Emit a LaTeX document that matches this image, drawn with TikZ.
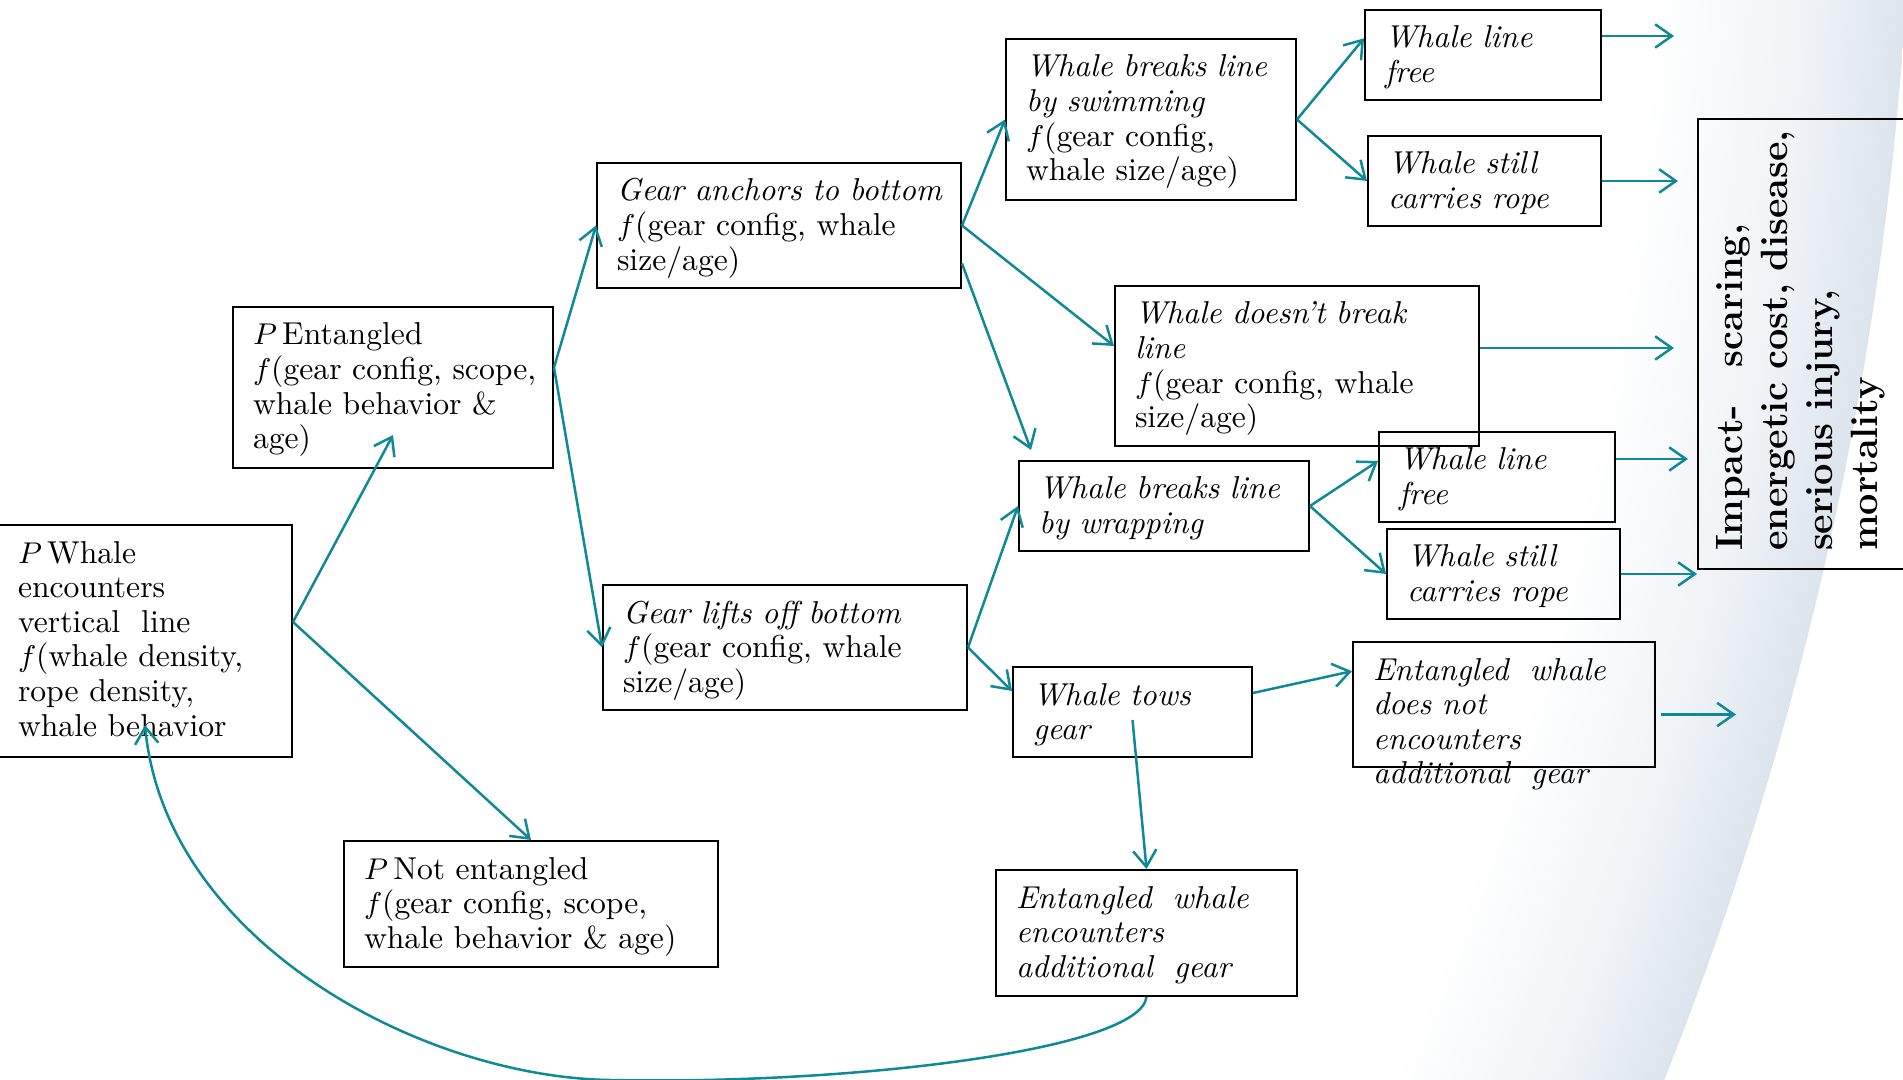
\documentclass[tikz,border=0pt]{standalone}
\usetikzlibrary{arrows.meta}

\definecolor{arrowteal}{RGB}{16,137,150}
\definecolor{fadegrey}{RGB}{220,228,237}
\pgfdeclareradialshading{edgefade}{\pgfpointorigin}{color(0bp)=(white); color(23.2bp)=(white); color(24.3bp)=(fadegrey!45!white); color(25bp)=(fadegrey); color(50bp)=(fadegrey)}

\newcommand{\boxfont}{\fontsize{9.5pt}{10.4pt}\selectfont}
\newcommand{\boxlines}[1]{\begin{tabular}[t]{@{}l@{}}#1\end{tabular}}

\begin{document}
\begin{tikzpicture}[x=0.3pt, y=-0.3pt,
    box/.style={draw, line width=0.6pt, anchor=north west, inner xsep=6pt, inner ysep=0pt, text height=11.4pt, font=\boxfont},
    outcome/.style={box, font=\boxfont\itshape},
    link/.style={draw=arrowteal, line width=0.75pt, -{Straight Barb[length=5pt,width=7pt]}}]
        \useasboundingbox (0,0) rectangle (1903,1080);

        % Background fade
        \shade[shading=edgefade] (-1606,-222) circle [radius=1055.7pt];

        % Boxes
        \node[box, text width=76.2pt, text depth=58.2pt] (root) at (-3,524)
          {\boxlines{$P$\,Whale\\encounters\\vertical\ \ line\\$f$(whale density,\\rope density,\\whale behavior}};
        \node[box, text width=84pt, text depth=36.9pt] (pent) at (232,306)
          {\boxlines{$P$\,Entangled\\$f$(gear config, scope,\\whale behavior \&\\age)}};
        \node[box, text width=100.2pt, text depth=26.4pt] (pnot) at (343,840)
          {\boxlines{$P$\,Not entangled\\$f$(gear config, scope,\\whale behavior \& age)}};
        \node[box, text width=97.2pt, text depth=26.1pt] (ganchor) at (596,162)
          {\boxlines{\textit{Gear anchors to bottom}\\$f$(gear config, whale\\size/age)}};
        \node[box, text width=97.2pt, text depth=26.1pt] (glift) at (602,584)
          {\boxlines{\textit{Gear lifts off bottom}\\$f$(gear config, whale\\size/age)}};
        \node[box, text width=75pt, text depth=36.9pt] (bswim) at (1005,38)
          {\boxlines{\textit{Whale breaks line}\\\textit{by swimming}\\$f$(gear config,\\whale size/age)}};
        \node[outcome, text width=58.8pt, text depth=15.6pt] (free1) at (1364,9)
          {\boxlines{Whale line\\free}};
        \node[outcome, text width=57.9pt, text depth=15.6pt] (rope1) at (1367,135)
          {\boxlines{Whale still\\carries rope}};
        \node[box, text width=97.2pt, text depth=36.6pt] (nobreak) at (1114,285)
          {\boxlines{\textit{Whale doesn't break}\\\textit{line}\\$f$(gear config, whale\\size/age)}};
        \node[outcome, text width=75pt, text depth=15.6pt] (bwrap) at (1018,460)
          {\boxlines{Whale breaks line\\by wrapping}};
        \node[outcome, text width=58.8pt, text depth=15.6pt] (free2) at (1378,431)
          {\boxlines{Whale line\\free}};
        \node[outcome, text width=57.9pt, text depth=15.6pt] (rope2) at (1386,528)
          {\boxlines{Whale still\\carries rope}};
        \node[outcome, text width=59.7pt, text depth=15.6pt] (tows) at (1012,666)
          {\boxlines{Whale tows\\gear}};
        \node[outcome, text width=78.6pt, text depth=26.1pt] (enot) at (1352,641)
          {\boxlines{Entangled\ \ whale\\does not\\encounters\\additional\ \ gear}};
        \node[outcome, text width=78.3pt, text depth=26.4pt] (enc) at (995,869)
          {\boxlines{Entangled\ \ whale\\encounters\\additional\ \ gear}};

        % Impact
        \node[box, rotate=90, inner xsep=5.4pt, text width=124.2pt, text height=13.2pt, text depth=64.8pt,
          font=\fontsize{11.4pt}{13.5pt}\selectfont\bfseries] (impact) at (1697,570)
          {\boxlines{Impact-\quad scaring,\\energetic cost, disease,\\serious injury,\\mortality}};

        % Branches
        \draw[link] ([yshift=5.7pt]root.east) -- ([yshift=10.2pt]pent.south);
        \draw[link] ([yshift=5.7pt]root.east) -- (pnot.north);
        \draw[link] ([yshift=6pt]pent.east) -- (ganchor.west);
        \draw[link] ([yshift=6pt]pent.east) -- (glift.west);
        \draw[link] (ganchor.east) -- (bswim.west);
        \draw[link] (ganchor.east) -- ([yshift=6pt]nobreak.west);
        \draw[link] ([yshift=-11.4pt]ganchor.east) -- ([xshift=3.9pt,yshift=3pt]bwrap.north west);
        \draw[link] (glift.east) -- (bwrap.west);
        \draw[link] (glift.east) -- ([yshift=6.3pt]tows.west);
        \draw[link] (bswim.east) -- ([yshift=5pt]free1.west);
        \draw[link] (bswim.east) -- (rope1.west);
        \draw[link] (bwrap.east) -- ([yshift=4.8pt]free2.west);
        \draw[link] (bwrap.east) -- (rope2.west);
        \draw[link] ([yshift=5.7pt]tows.east) -- ([yshift=10pt]enot.west);
        \draw[link] ([yshift=-2.4pt]tows.center) -- (enc.north);

        % Back to the start
        \draw[link] (enc.south) .. controls (1140,1050) and (850,1085) .. (610,1080)
          .. controls (420,1077) and (165,940) .. ([yshift=9.9pt]root.south);

        % Towards impact
        \draw[link] ([yshift=5.7pt]free1.east) -- ++(72,0);
        \draw[link] (rope1.east) -- ++(76,0);
        \draw[link] ([yshift=5.4pt]nobreak.east) -- ++(194,0);
        \draw[link] ([yshift=5.4pt]free2.east) -- ++(72,0);
        \draw[link] (rope2.east) -- ++(76,0);
        \draw[link] ([xshift=1.5pt,yshift=-3pt]enot.east) -- ++(75,0);
      \end{tikzpicture}
\end{document}
